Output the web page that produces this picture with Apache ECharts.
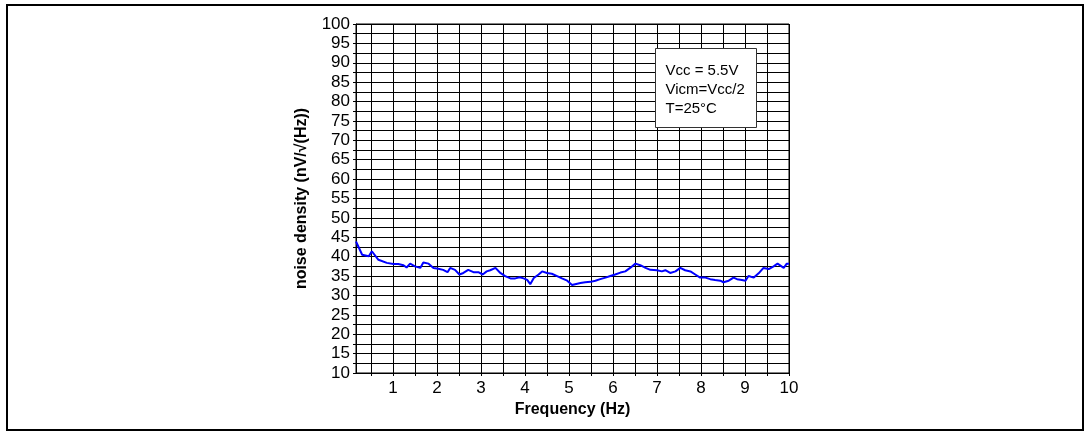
<!DOCTYPE html>
<html>
<head>
<meta charset="utf-8">
<script src="https://cdn.jsdelivr.net/npm/echarts@6/dist/echarts.min.js"></script>
<style>
html,body{margin:0;padding:0;background:#fff;}
#chart{width:1085px;height:432px;}
</style>
</head>
<body>
<div id="chart"></div>
<script>
const freq = [0.16,0.30,0.45,0.52,0.67,0.86,1.01,1.12,1.24,1.31,1.39,1.50,1.62,1.69,1.81,1.92,2.03,2.14,2.24,2.30,2.41,2.51,2.60,2.71,2.83,2.94,3.04,3.13,3.21,3.33,3.44,3.55,3.67,3.78,3.88,3.97,4.05,4.12,4.20,4.31,4.39,4.50,4.61,4.73,4.84,4.96,5.07,5.14,5.26,5.37,5.49,5.60,5.71,5.83,5.94,6.05,6.17,6.28,6.39,6.51,6.62,6.74,6.85,6.89,7.00,7.11,7.19,7.30,7.42,7.53,7.64,7.76,7.87,7.98,8.10,8.21,8.32,8.44,8.51,8.63,8.74,8.82,8.93,9.01,9.08,9.20,9.31,9.42,9.54,9.65,9.74,9.88,9.95,10.0];
const noise = [43.9,40.5,40.1,41.4,39.2,38.4,38.1,38.1,37.8,37.2,38.2,37.5,37.1,38.5,38.2,37.1,36.9,36.6,36.0,37.1,36.6,35.4,35.8,36.6,36.0,36.0,35.4,36.2,36.5,37.1,35.8,35.0,34.4,34.4,34.7,34.4,34.0,32.9,34.5,35.4,36.2,35.8,35.6,35.0,34.4,33.8,32.7,32.9,33.2,33.4,33.5,33.8,34.2,34.6,35.0,35.4,35.9,36.2,37.1,38.2,37.8,37.1,36.6,37.1,36.5,36.2,36.5,35.8,36.2,37.1,36.5,36.2,35.4,34.6,34.6,34.2,34.0,33.8,33.4,33.8,34.6,34.2,34.0,33.8,35.0,34.6,35.7,37.1,36.8,37.5,38.2,37.1,38.2,38.2];
const xTickValues = [0.5,1,1.5,2,2.5,3,3.5,4,4.5,5,5.5,6,6.5,7,7.5,8,8.5,9,9.5,10];
const xLabelValues = [1,2,3,4,5,6,7,8,9,10];
const yLabelValues = [10,15,20,25,30,35,40,45,50,55,60,65,70,75,80,85,90,95,100];
const legendLines = ['Vcc = 5.5V','Vicm=Vcc/2','T=25°C'];
const xName = 'Frequency (Hz)';
const yName = 'noise density (nV/√(Hz))';

const chart = echarts.init(document.getElementById('chart'), null, {renderer:'canvas'});
const font = 'Liberation Sans, Arial, sans-serif';
chart.setOption({
  animation:false,
  backgroundColor:'#fff',
  grid:{left:356,top:24,width:433,height:349,show:true,borderColor:'#000',borderWidth:1,containLabel:false},
  xAxis:{
    type:'value',min:0.16,max:10,
    name:xName,nameLocation:'middle',nameGap:27,
    nameTextStyle:{fontFamily:font,fontWeight:'bold',fontSize:16,color:'#000'},
    axisLine:{show:true,onZero:false,lineStyle:{color:'#000',width:1}},
    axisTick:{show:true,inside:false,length:3,customValues:xTickValues,lineStyle:{color:'#000'}},
    axisLabel:{customValues:xLabelValues,fontFamily:font,fontSize:17,color:'#000',margin:7},
    splitLine:{show:true,lineStyle:{color:'#000',width:1}}
  },
  yAxis:{
    type:'value',min:10,max:100,interval:2.5,
    name:yName,nameLocation:'middle',nameGap:46,
    nameTextStyle:{fontFamily:font,fontWeight:'bold',fontSize:16,color:'#000'},
    axisLine:{show:true,lineStyle:{color:'#000',width:1}},
    axisTick:{show:true,length:3,lineStyle:{color:'#000'}},
    axisLabel:{customValues:yLabelValues,showMinLabel:true,showMaxLabel:true,hideOverlap:false,fontFamily:font,fontSize:17,color:'#000',margin:6},
    splitLine:{show:true,lineStyle:{color:'#000',width:1}}
  },
  series:[{
    type:'line',
    data:freq.map((f,i)=>[f,noise[i]]),
    showSymbol:false,
    lineStyle:{color:'#0000ff',width:2},
    z:5
  }],
  graphic:[
    {type:'rect',shape:{x:7,y:5,width:1076,height:425},style:{fill:null,stroke:'#000',lineWidth:2},silent:true},
    {type:'group',left:655,top:48,children:[
      {type:'rect',shape:{x:0,y:0,width:101,height:79},style:{fill:'#fff',stroke:'#333',lineWidth:1},z:10},
      {type:'text',x:10,y:15,style:{text:legendLines[0],font:'15px '+font,fill:'#000'},z:11},
      {type:'text',x:10,y:34,style:{text:legendLines[1],font:'15px '+font,fill:'#000'},z:11},
      {type:'text',x:10,y:53,style:{text:legendLines[2],font:'15px '+font,fill:'#000'},z:11}
    ]}
  ]
});
</script>
</body>
</html>
